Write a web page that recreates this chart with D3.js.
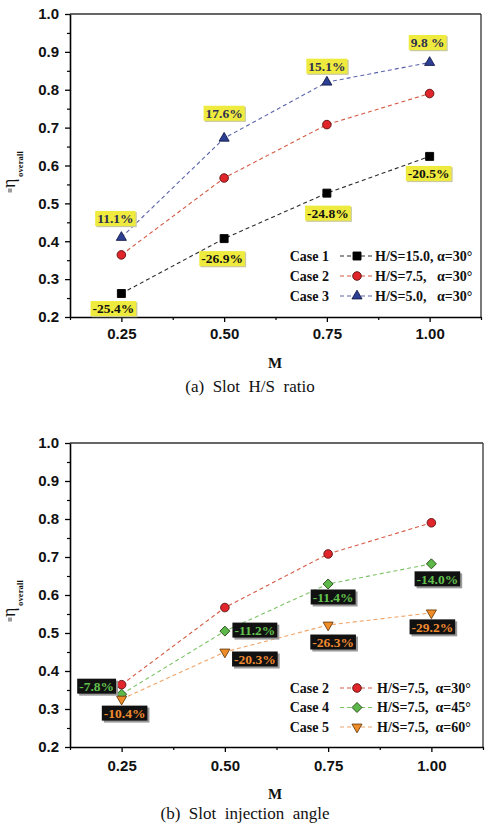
<!DOCTYPE html>
<html>
<head>
<meta charset="utf-8">
<script src="https://cdn.jsdelivr.net/npm/d3@7/dist/d3.min.js"></script>
<style>
  html, body { margin: 0; padding: 0; background: #fff; }
  svg { display: block; }
</style>
</head>
<body>
<svg id="chart" width="489" height="834"></svg>
<script>
// ---------- data ----------
const M = [0.25, 0.50, 0.75, 1.00];
const xTickLabels = ["0.25", "0.50", "0.75", "1.00"];
const yTickValues = [0.2, 0.3, 0.4, 0.5, 0.6, 0.7, 0.8, 0.9, 1.0];

const case1 = [0.262, 0.407, 0.527, 0.624];
const case2 = [0.364, 0.567, 0.708, 0.790];
const case3 = [0.410, 0.672, 0.820, 0.872];
const case4 = [0.339, 0.505, 0.629, 0.682];
const case5 = [0.326, 0.450, 0.521, 0.553];

const labels1 = ["-25.4%", "-26.9%", "-24.8%", "-20.5%"];
const labels3 = ["11.1%", "17.6%", "15.1%", "9.8 %"];
const labels4 = ["-7.8%", "-11.2%", "-11.4%", "-14.0%"];
const labels5 = ["-10.4%", "-20.3%", "-26.3%", "-29.2%"];

const legendA = [
  {name: "Case 1", desc: "H/S=15.0, α=30°"},
  {name: "Case 2", desc: "H/S=7.5,   α=30°"},
  {name: "Case 3", desc: "H/S=5.0,   α=30°"}
];
const legendB = [
  {name: "Case 2", desc: "H/S=7.5,  α=30°"},
  {name: "Case 4", desc: "H/S=7.5,  α=45°"},
  {name: "Case 5", desc: "H/S=7.5,  α=60°"}
];

// ---------- styles ----------
const SERIF = "'Liberation Serif', 'Times New Roman', serif";
const SANS = "'Liberation Sans', Arial, sans-serif";

const styles = {
  c1: {line: "#2a2a2a", fill: "#000", stroke: "#000", sym: "square"},
  c2: {line: "#d55a44", fill: "#e0262a", stroke: "#5a1010", sym: "circle"},
  c3: {line: "#5a64aa", fill: "#2c3f92", stroke: "#141a48", sym: "triangle"},
  c4: {line: "#7cc266", fill: "#5db84a", stroke: "#2a4a1a", sym: "diamond"},
  c5: {line: "#f0a468", fill: "#f08c28", stroke: "#6a3e10", sym: "down"}
};

const svg = d3.select("#chart");

function symbolPath(sym) {
  switch (sym) {
    case "square": return d3.symbol(d3.symbolSquare, 64)();
    case "circle": return d3.symbol(d3.symbolCircle, 58)();
    case "triangle": return d3.symbol(d3.symbolTriangle, 44)();
    case "diamond": return d3.symbol(d3.symbolSquare, 50)();
    case "down": return d3.symbol(d3.symbolTriangle, 44)();
  }
}
function symbolRot(sym) {
  return sym === "diamond" ? 45 : (sym === "down" ? 180 : 0);
}

function drawPanel(cfg) {
  const x = d3.scaleLinear().domain([0.125, 1.125]).range([cfg.left, cfg.right]);
  const y = d3.scaleLinear().domain([0.2, 1.0]).range([cfg.bottom, cfg.top]);
  const g = svg.append("g");

  // frame top/right
  g.append("line").attr("x1", cfg.left).attr("x2", cfg.right).attr("y1", cfg.top).attr("y2", cfg.top)
    .attr("stroke", "#333").attr("stroke-width", 1.3);
  g.append("line").attr("x1", cfg.right).attr("x2", cfg.right).attr("y1", cfg.top).attr("y2", cfg.bottom)
    .attr("stroke", "#333").attr("stroke-width", 1.3);

  // minor ticks
  const yMinor = d3.range(0.25, 1.0, 0.1);
  const xMinor = [0.125, 0.375, 0.625, 0.875, 1.125];
  const ax = g.append("g").attr("transform", `translate(${cfg.left},0)`)
    .call(d3.axisLeft(y).tickValues(yMinor).tickSize(3).tickFormat(""));
  ax.select(".domain").remove();
  ax.selectAll("line").attr("stroke", "#000").attr("stroke-width", 1.2);
  const bx = g.append("g").attr("transform", `translate(0,${cfg.bottom})`)
    .call(d3.axisBottom(x).tickValues(xMinor).tickSize(3).tickFormat(""));
  bx.select(".domain").remove();
  bx.selectAll("line").attr("stroke", "#000").attr("stroke-width", 1.2);

  // major axes
  const yAxis = g.append("g").attr("transform", `translate(${cfg.left},0)`)
    .call(d3.axisLeft(y).tickValues(yTickValues).tickSize(5).tickSizeOuter(0).tickPadding(6).tickFormat(d3.format(".1f")));
  const xAxis = g.append("g").attr("transform", `translate(0,${cfg.bottom})`)
    .call(d3.axisBottom(x).tickValues(M).tickSize(5).tickSizeOuter(0).tickPadding(cfg.xPad)
      .tickFormat((d, i) => xTickLabels[i]));
  [yAxis, xAxis].forEach(a => {
    a.select(".domain").attr("stroke", "#000").attr("stroke-width", 1.6);
    a.selectAll("line").attr("stroke", "#000").attr("stroke-width", 1.3);
    a.selectAll("text").attr("fill", "#111").style("font-family", SANS)
      .style("font-weight", "bold").style("font-size", "15px");
  });

  // series
  cfg.series.forEach(s => {
    const st = styles[s.style];
    const pts = M.map((m, i) => [x(m), y(s.values[i])]);
    g.append("path").attr("d", d3.line()(pts)).attr("fill", "none")
      .attr("stroke", st.line).attr("stroke-width", 1.1).attr("stroke-dasharray", "4,3");
  });
  cfg.series.forEach(s => {
    const st = styles[s.style];
    M.forEach((m, i) => {
      g.append("path").attr("d", symbolPath(st.sym))
        .attr("transform", `translate(${x(m)},${y(s.values[i])}) rotate(${symbolRot(st.sym)})`)
        .attr("fill", st.fill).attr("stroke", st.stroke).attr("stroke-width", 0.9);
    });
  });

  // annotation labels
  cfg.annotations.forEach(a => {
    const s = a.series;
    M.forEach((m, i) => {
      const cx = x(m) + a.offsets[i][0];
      const cy = y(s[i]) + a.offsets[i][1];
      const lg = g.append("g");
      const t = lg.append("text").text(a.labels[i])
        .attr("x", cx).attr("y", cy).attr("text-anchor", "middle").attr("dy", "0.35em")
        .style("font-family", SERIF).style("font-weight", "bold").style("font-size", "13.5px")
        .style("white-space", "pre")
        .attr("fill", a.textColor);
      const bb = t.node().getBBox();
      const w = bb.width + 4, h = 15;
      lg.insert("rect", "text").attr("x", cx - w / 2 + a.shadow).attr("y", cy - h / 2 + a.shadow)
        .attr("width", w).attr("height", h).attr("fill", a.shadowColor);
      lg.insert("rect", "text").attr("x", cx - w / 2).attr("y", cy - h / 2)
        .attr("width", w).attr("height", h).attr("fill", a.boxColor);
    });
  });

  // legend
  cfg.legend.forEach((L, i) => {
    const cy = cfg.legendY + i * cfg.legendStep;
    const st = styles[cfg.series[i].style];
    g.append("text").text(L.name).attr("x", 329).attr("y", cy).attr("dy", "0.35em")
      .attr("text-anchor", "end").style("font-family", SERIF).style("font-weight", "bold")
      .style("font-size", "14px").attr("fill", "#111");
    g.append("line").attr("x1", 340).attr("x2", 373).attr("y1", cy).attr("y2", cy)
      .attr("stroke", st.line).attr("stroke-width", 1.1).attr("stroke-dasharray", "4,3");
    g.append("path").attr("d", symbolPath(st.sym))
      .attr("transform", `translate(357,${cy}) rotate(${symbolRot(st.sym)})`)
      .attr("fill", st.fill).attr("stroke", st.stroke).attr("stroke-width", 0.9);
    g.append("text").text(L.desc).attr("x", cfg.legendTextX).attr("y", cy).attr("dy", "0.35em")
      .style("font-family", SERIF).style("font-weight", "bold").style("font-size", "14px")
      .style("white-space", "pre").attr("fill", "#111");
  });

  // y label: eta overall with double bar
  const yl = svg.append("g").attr("transform", `translate(15,${cfg.yLabelBase}) rotate(-90)`);
  yl.append("line").attr("x1", 0.5).attr("x2", 4.5).attr("y1", -6).attr("y2", -6).attr("stroke", "#222").attr("stroke-width", 0.9);
  yl.append("line").attr("x1", 0.5).attr("x2", 4.5).attr("y1", -4).attr("y2", -4).attr("stroke", "#222").attr("stroke-width", 0.9);
  yl.append("text").text("η").attr("x", 5).attr("y", 0)
    .style("font-family", SERIF).style("font-size", "18px").attr("fill", "#111");
  yl.append("text").text("overall").attr("x", 16).attr("y", 8)
    .style("font-family", SERIF).style("font-weight", "bold").style("font-size", "8.8px").attr("fill", "#111");

  // x label and caption
  svg.append("text").text("M").attr("x", 275).attr("y", cfg.mBase).attr("text-anchor", "middle")
    .style("font-family", SERIF).style("font-weight", "bold").style("font-size", "15px").attr("fill", "#111");
  svg.append("text").text(cfg.caption).attr("x", cfg.captionX).attr("y", cfg.captionBase).attr("text-anchor", "middle")
    .style("font-family", SERIF).style("font-size", "17px").style("white-space", "pre").attr("fill", "#111");
}

drawPanel({
  left: 70, right: 481, top: 14, bottom: 317, xPad: 6,
  series: [{values: case1, style: "c1"}, {values: case2, style: "c2"}, {values: case3, style: "c3"}],
  annotations: [
    {series: case3, labels: labels3, offsets: [[-6, -19], [0, -25], [0, -16], [-2, -20]],
     boxColor: "#efeb3e", textColor: "#2e3050", shadowColor: "#c9c9a0", shadow: 1.2},
    {series: case1, labels: labels1, offsets: [[-8, 15], [-2, 20], [1, 20], [-1, 17]],
     boxColor: "#efeb3e", textColor: "#111", shadowColor: "#c9c9a0", shadow: 1.2}
  ],
  legend: legendA, legendY: 256, legendStep: 20, legendTextX: 375,
  yLabelBase: 193, mBase: 368, caption: "(a)  Slot  H/S  ratio", captionX: 250, captionBase: 392
});

drawPanel({
  left: 70, right: 483, top: 443, bottom: 747, xPad: 8,
  series: [{values: case2, style: "c2"}, {values: case4, style: "c4"}, {values: case5, style: "c5"}],
  annotations: [
    {series: case4, labels: labels4, offsets: [[-25, -8], [30, -1], [5, 13], [6, 15]],
     boxColor: "#111", textColor: "#62c04e", shadowColor: "#9a9a9a", shadow: 2},
    {series: case5, labels: labels5, offsets: [[3, 14], [30, 7], [5, 17], [1, 14]],
     boxColor: "#111", textColor: "#f08a30", shadowColor: "#9a9a9a", shadow: 2}
  ],
  legend: legendB, legendY: 688, legendStep: 19.5, legendTextX: 377,
  yLabelBase: 622, mBase: 799, caption: "(b)  Slot  injection  angle", captionX: 245, captionBase: 819
});
</script>
</body>
</html>
